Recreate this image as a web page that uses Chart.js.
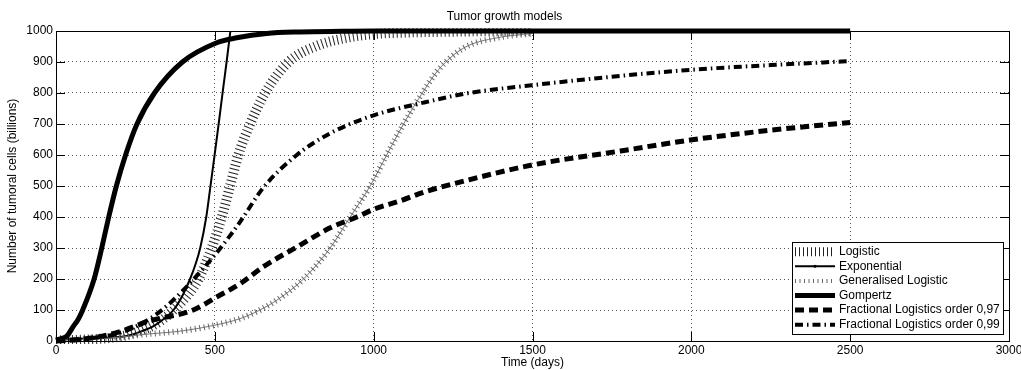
<!DOCTYPE html>
<html>
<head>
<meta charset="utf-8">
<script src="https://cdn.jsdelivr.net/npm/chart.js@4.4.1/dist/chart.umd.min.js"></script>
<style>
  html, body { margin: 0; padding: 0; background: #fff; }
  #chart { display: block; }
</style>
</head>
<body>
<canvas id="chart" width="1021" height="370"></canvas>
<script>
// values (days -> tumoral cells, billions)
var logisticDays = [0, 100, 200, 260, 330, 385, 420, 449, 490, 522, 548, 574, 611, 658, 732, 821, 915, 1000, 1100, 1200, 1350, 1500];
var logisticCells = [2, 5, 14, 30, 65, 115, 155, 200, 300, 400, 500, 600, 700, 800, 900, 952, 978, 990, 995, 997, 999, 999];

var exponentialDays = [0, 100, 150, 223, 260, 307, 340, 370, 400, 422, 440, 454, 473, 485, 498, 512, 525, 537, 549];
var exponentialCells = [5, 8, 10, 16, 28, 48, 72, 100, 150, 200, 250, 300, 400, 490, 590, 700, 805, 900, 1000];

var genLogisticDays = [0, 100, 200, 265, 400, 495, 579, 642, 700, 779, 863, 926, 989, 1041, 1094, 1150, 1204, 1283, 1388, 1500];
var genLogisticCells = [2, 6, 12, 20, 33, 50, 72, 100, 135, 200, 300, 400, 500, 600, 700, 795, 875, 945, 978, 992];

var gompertzDays = [0, 20, 34, 55, 70, 84, 120, 144, 166, 190, 219, 255, 310, 398, 506, 569, 663, 768, 900, 1000, 1500, 2000, 2500];
var gompertzCells = [3, 9, 16, 48, 70, 100, 200, 300, 400, 500, 600, 700, 800, 900, 962, 978, 992, 997, 999, 1000, 1000, 1000, 1000];

var frac97Days = [0, 50, 100, 191, 296, 432, 506, 580, 653, 758, 863, 947, 1000, 1083, 1157, 1300, 1500, 1777, 2002, 2250, 2500];
var frac97Cells = [0, 3, 8, 27, 65, 100, 142, 185, 240, 303, 365, 400, 425, 452, 480, 520, 568, 613, 649, 680, 705];

var frac99Days = [0, 100, 180, 244, 300, 349, 433, 506, 548, 580, 653, 758, 863, 1000, 1157, 1300, 1498, 1745, 2002, 2250, 2500];
var frac99Cells = [0, 8, 20, 43, 75, 113, 199, 285, 340, 385, 495, 600, 670, 728, 769, 800, 825, 852, 875, 890, 903];

var xTicks = [0, 500, 1000, 1500, 2000, 2500, 3000];
var yTicks = [0, 100, 200, 300, 400, 500, 600, 700, 800, 900, 1000];

function pts(days, cells) {
    return days.map(function(d, i) { return {x: d, y: cells[i]}; });
}

var FONT = {family: '"Liberation Sans", Arial, Helvetica, sans-serif', size: 12};

/* cadre, petits traits vers l'intérieur et légende encadrée */
var axesBox = {
    id: 'axesBox',
    afterDatasetsDraw: function(chart) {
        var ctx = chart.ctx, a = chart.chartArea;
        var sx = chart.scales.x, sy = chart.scales.y;
        var tl = 9;
        ctx.save();
        ctx.setLineDash([]);
        ctx.strokeStyle = '#000';
        ctx.lineWidth = 1;
        ctx.beginPath();
        xTicks.forEach(function(v) {
            var px = Math.round(sx.getPixelForValue(v)) + 0.5;
            ctx.moveTo(px, a.bottom); ctx.lineTo(px, a.bottom - tl);
            ctx.moveTo(px, a.top); ctx.lineTo(px, a.top + tl);
        });
        yTicks.forEach(function(v) {
            var py = Math.round(sy.getPixelForValue(v)) + 0.5;
            ctx.moveTo(a.left, py); ctx.lineTo(a.left + tl, py);
            ctx.moveTo(a.right, py); ctx.lineTo(a.right - tl, py);
        });
        ctx.stroke();
        ctx.strokeRect(Math.round(a.left) + 0.5, Math.round(a.top) + 0.5,
            Math.round(a.right - a.left), Math.round(a.bottom - a.top));

        // légende
        var items = chart.data.datasets.filter(function(d) { return d.label; });
        ctx.font = FONT.size + 'px ' + FONT.family;
        var tw = 0;
        items.forEach(function(d) { tw = Math.max(tw, ctx.measureText(d.label).width); });
        var rowH = 14.6;
        var bw = Math.round(47 + tw + 3), bh = 92;
        var bx = Math.round(a.right - 6 - bw), by = Math.round(a.bottom - 7 - bh);
        ctx.fillStyle = '#fff';
        ctx.fillRect(bx, by, bw, bh);
        ctx.strokeStyle = '#000';
        ctx.lineWidth = 1;
        ctx.strokeRect(bx + 0.5, by + 0.5, bw, bh);

        items.forEach(function(d, i) {
            var cy = by + 9.7 + i * rowH;
            var x0 = bx + 3, x1 = bx + 43;
            ctx.save();
            ctx.beginPath();
            ctx.rect(bx + 1, cy - 6, 44, 12);
            ctx.clip();
            if (d.spine) {
                ctx.setLineDash([]);
                ctx.strokeStyle = d.borderColor;
                ctx.lineWidth = 1;
                ctx.beginPath(); ctx.moveTo(x0, cy); ctx.lineTo(x1, cy); ctx.stroke();
            }
            ctx.setLineDash(d.borderDash || []);
            ctx.lineCap = 'butt';
            ctx.strokeStyle = d.borderColor;
            ctx.lineWidth = d.sampleWidth || d.borderWidth;
            ctx.beginPath(); ctx.moveTo(x0, cy); ctx.lineTo(x1, cy); ctx.stroke();
            if (d.dot) {
                ctx.fillStyle = d.borderColor;
                ctx.beginPath(); ctx.arc((x0 + x1) / 2, cy, d.dot, 0, Math.PI * 2); ctx.fill();
            }
            ctx.restore();
            ctx.fillStyle = '#000';
            ctx.textBaseline = 'middle';
            ctx.textAlign = 'left';
            ctx.fillText(d.label, bx + 47, cy);
        });
        ctx.restore();
    }
};

var ctx = document.getElementById('chart').getContext('2d');
var chart = new Chart(ctx, {
    type: 'line',
    data: {
        datasets: [{
            label: 'Logistic',
            data: pts(logisticDays, logisticCells),
            borderColor: '#222',
            borderWidth: 10,
            sampleWidth: 9,
            borderDash: [1, 3],
            order: 7
        }, {
            label: 'Exponential',
            data: pts(exponentialDays, exponentialCells),
            borderColor: '#000',
            borderWidth: 2,
            dot: 1.5,
            order: 6
        }, {
            // trait fin sous les hachures de la logistique généralisée
            label: '',
            data: pts(genLogisticDays, genLogisticCells),
            borderColor: '#777',
            borderWidth: 1,
            order: 5
        }, {
            label: 'Generalised Logistic',
            data: pts(genLogisticDays, genLogisticCells),
            borderColor: '#666',
            borderWidth: 6,
            sampleWidth: 4,
            borderDash: [1, 3.5],
            order: 4
        }, {
            label: 'Gompertz',
            data: pts(gompertzDays, gompertzCells),
            borderColor: '#000',
            borderWidth: 5,
            dot: 2.5,
            order: 3
        }, {
            label: 'Fractional Logistics order 0,97',
            data: pts(frac97Days, frac97Cells),
            borderColor: '#000',
            borderWidth: 5,
            borderDash: [9, 5],
            order: 2
        }, {
            label: 'Fractional Logistics order 0,99',
            data: pts(frac99Days, frac99Cells),
            borderColor: '#000',
            borderWidth: 4,
            borderDash: [8, 4, 1.5, 4],
            order: 1
        }]
    },
    options: {
        responsive: false,
        animation: false,
        devicePixelRatio: 1,
        layout: {padding: {left: 0, right: 12, top: 0, bottom: 0}},
        datasets: {
            line: {
                pointRadius: 0,
                cubicInterpolationMode: 'monotone',
                fill: false,
                clip: 3,
                borderCapStyle: 'butt'
            }
        },
        plugins: {
            legend: {display: false},
            tooltip: {enabled: false},
            title: {
                display: true,
                text: 'Tumor growth models',
                color: '#000',
                font: {family: FONT.family, size: 12, weight: 'normal'},
                padding: {top: 9, bottom: 7.6}
            }
        },
        scales: {
            x: {
                type: 'linear',
                min: 0,
                max: 3000,
                ticks: {stepSize: 500, color: '#000', font: FONT, padding: 2.8, maxRotation: 0,
                    callback: function(v) { return String(v); }},
                grid: {color: '#555', lineWidth: 1, drawTicks: false},
                border: {display: false, dash: [1, 3]},
                title: {display: true, text: 'Time (days)', color: '#000', font: FONT, padding: {top: 0, bottom: 0}},
                afterFit: function(s) { s.height = 29; s.paddingLeft = 0; s.paddingRight = 0; }
            },
            y: {
                min: 0,
                max: 1000,
                ticks: {stepSize: 100, color: '#000', font: FONT, padding: 3,
                    callback: function(v) { return String(v); }},
                grid: {color: '#555', lineWidth: 1, drawTicks: false},
                border: {display: false, dash: [1, 3]},
                title: {display: true, text: 'Number of tumoral cells (billions)', color: '#000', font: FONT, padding: {top: 5.8, bottom: 0}},
                afterFit: function(s) { s.width = 56; }
            }
        }
    },
    plugins: [axesBox]
});
</script>
</body>
</html>
